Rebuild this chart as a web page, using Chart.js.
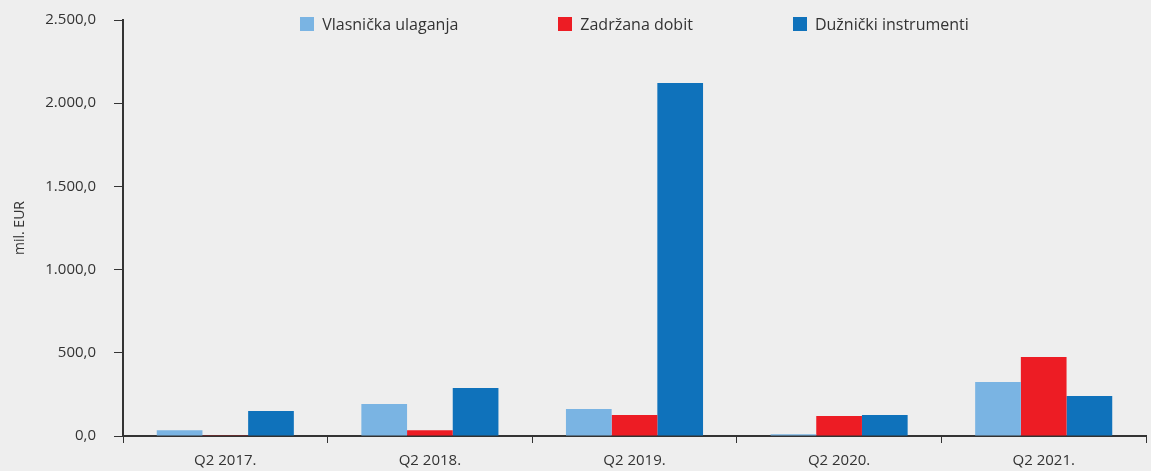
<!DOCTYPE html>
<html>
<head>
<meta charset="utf-8">
<script src="https://cdn.jsdelivr.net/npm/chart.js@4/dist/chart.umd.min.js"></script>
<style>
  html, body { margin: 0; padding: 0; background: #eeeeee; }
  #wrap { position: relative; width: 1151px; height: 471px; }
  #legend {
    position: absolute; top: 16px; left: 123px; width: 1023px;
    display: flex; justify-content: center; gap: 100px;
    font-family: 'Open Sans', sans-serif; font-size: 16px; color: #333333;
  }
  .item { display: flex; align-items: center; white-space: nowrap; line-height: 16px; }
  .box { width: 14px; height: 14px; margin-right: 8px; }
</style>
</head>
<body>
<div id="wrap">
  <div id="legend"></div>
  <canvas id="fdiChart" width="1151" height="471"></canvas>
</div>
<script>
const quarters = ['Q2 2017.', 'Q2 2018.', 'Q2 2019.', 'Q2 2020.', 'Q2 2021.'];
const vlasnicka = [35, 192, 162, 10, 325];
const zadrzana = [5, 35, 126, 120, 475];
const duznicki = [150, 288, 2121, 126, 240];
const yTicks = [0, 500, 1000, 1500, 2000, 2500];

function fmt(v) {
    const parts = Math.abs(v).toFixed(1).split('.');
    const int = parts[0].replace(/\B(?=(\d{3})+(?!\d))/g, '.');
    return (v < 0 ? '-' : '') + int + ',' + parts[1];
}

// html legend built from the chart's own legend items
const htmlLegend = {
    id: 'htmlLegend',
    afterUpdate(chart) {
        const el = document.getElementById('legend');
        el.innerHTML = '';
        const items = chart.options.plugins.legend.labels.generateLabels(chart);
        items.forEach(item => {
            const div = document.createElement('div');
            div.className = 'item';
            const box = document.createElement('span');
            box.className = 'box';
            box.style.background = item.fillStyle;
            const txt = document.createElement('span');
            txt.textContent = item.text;
            div.appendChild(box);
            div.appendChild(txt);
            el.appendChild(div);
        });
    }
};

document.addEventListener('DOMContentLoaded', function() {
    const ctx = document.getElementById('fdiChart').getContext('2d');
    const fdiChart = new Chart(ctx, {
        type: 'bar',
        data: {
            labels: quarters,
            datasets: [
                { label: 'Vlasnička ulaganja', data: vlasnicka, backgroundColor: '#7ab4e3' },
                { label: 'Zadržana dobit', data: zadrzana, backgroundColor: '#ed1c24' },
                { label: 'Dužnički instrumenti', data: duznicki, backgroundColor: '#0f72bb' }
            ]
        },
        plugins: [htmlLegend],
        options: {
            responsive: false,
            animation: false,
            layout: { padding: { top: 20, right: 5, left: 0, bottom: 0 } },
            datasets: { bar: { categoryPercentage: 0.67, barPercentage: 1.0 } },
            plugins: {
                tooltip: { enabled: false },
                legend: { display: false }
            },
            scales: {
                x: {
                    border: { color: '#333333', width: 2 },
                    grid: { offset: true, drawOnChartArea: false, drawTicks: true, tickLength: 7, color: '#333333' },
                    ticks: { color: '#333333', padding: 9, font: { family: 'Open Sans', size: 15 } },
                    afterFit: function(scale) { scale.height = 35; }
                },
                y: {
                    min: 0,
                    max: 2500,
                    afterBuildTicks: function(scale) { scale.ticks = yTicks.map(v => ({ value: v })); },
                    border: { color: '#333333', width: 2 },
                    grid: { drawOnChartArea: false, drawTicks: true, tickLength: 9, color: '#333333' },
                    ticks: {
                        color: '#333333',
                        padding: 18,
                        font: { family: 'Open Sans', size: 15 },
                        callback: function(v) { return fmt(v); }
                    },
                    title: {
                        display: true,
                        text: 'mil. EUR',
                        color: '#333333',
                        padding: { top: 12, bottom: 0 },
                        font: { family: 'Open Sans', size: 14 }
                    },
                    afterFit: function(scale) {
                        scale.width = 123;
                        scale.paddingTop = 0;
                        scale.paddingBottom = 0;
                    }
                }
            }
        }
    });
});
</script>
</body>
</html>
